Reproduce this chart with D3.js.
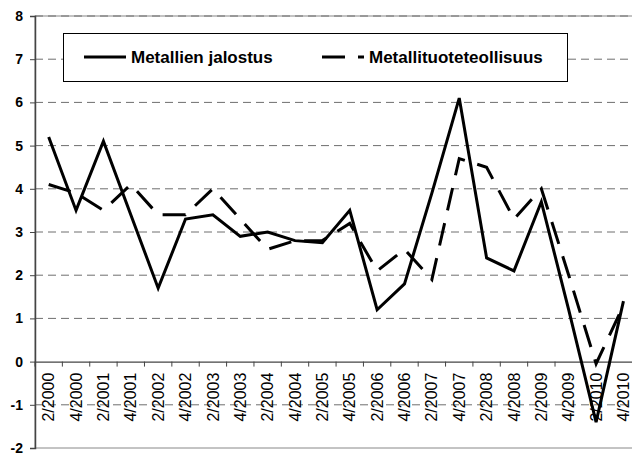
<!DOCTYPE html>
<html>
<head>
<meta charset="utf-8">
<script src="https://cdn.jsdelivr.net/npm/d3@7"></script>
<style>
  body { margin: 0; background: #fff; }
  svg { display: block; font-family: "Liberation Sans", Arial, sans-serif; }
</style>
</head>
<body>
<svg width="632" height="455"></svg>
<script>
const width = 632;
const height = 455;

// quarters on the x axis
const quarters = ["2/2000", "4/2000", "2/2001", "4/2001", "2/2002", "4/2002", "2/2003", "4/2003",
  "2/2004", "4/2004", "2/2005", "4/2005", "2/2006", "4/2006", "2/2007", "4/2007",
  "2/2008", "4/2008", "2/2009", "4/2009", "2/2010", "4/2010"];

const jalostus = [5.2, 3.5, 5.1, 3.4, 1.7, 3.3, 3.4, 2.9, 3.0, 2.8, 2.75, 3.5,
  1.2, 1.8, 3.9, 6.1, 2.4, 2.1, 3.7, 1.2, -1.4, 1.4];
const tuote = [4.1, 3.9, 3.5, 4.1, 3.4, 3.4, 4.0, 3.3, 2.6, 2.8, 2.8, 3.2,
  2.1, 2.6, 1.9, 4.7, 4.5, 3.3, 4.0, 2.0, -0.05, 1.3];

const seriesNames = ["Metallien jalostus", "Metallituoteteollisuus"];
const yTicks = [-2, -1, 0, 1, 2, 3, 4, 5, 6, 7, 8];

const svg = d3.select("svg");

const x = d3.scaleBand()
  .domain(quarters)
  .range([35, 35 + 22 * 27.37]);

const y = d3.scaleLinear()
  .domain([-2, 8])
  .range([448, 16]);

const plotRight = 35 + 22 * 27.37;

// plot area border (top/bottom)
svg.append("rect")
  .attr("x", 35).attr("y", y(8))
  .attr("width", plotRight - 35).attr("height", y(-2) - y(8))
  .attr("fill", "none")
  .attr("stroke", "#888")
  .attr("stroke-width", 1);

// gridlines
svg.append("g")
  .selectAll("line")
  .data(yTicks.filter(d => d !== 0 && d !== -2))
  .enter().append("line")
  .attr("x1", 35).attr("x2", plotRight)
  .attr("y1", d => y(d)).attr("y2", d => y(d))
  .attr("stroke", "#6e6e6e")
  .attr("stroke-width", 1)
  .attr("stroke-dasharray", "8,5");

// y axis
const yAxis = svg.append("g")
  .attr("transform", "translate(35,0)")
  .call(d3.axisLeft(y).tickValues(yTicks).tickSize(5).tickPadding(7).tickFormat(d => String(d)));
yAxis.select(".domain").attr("stroke", "#444").attr("stroke-width", 1.5);
yAxis.selectAll(".tick line").attr("stroke", "#444");
yAxis.selectAll("text")
  .attr("font-size", 14)
  .attr("font-weight", "bold")
  .attr("fill", "#000");

// x axis on zero line
const xAxis = svg.append("g")
  .attr("transform", `translate(0,${y(0)})`)
  .call(d3.axisBottom(x).tickSize(0).tickPadding(0));
xAxis.select(".domain").attr("stroke", "#444").attr("stroke-width", 1.2);
xAxis.selectAll("text")
  .attr("font-size", 16)
  .attr("fill", "#000")
  .attr("transform", "rotate(-90)")
  .attr("text-anchor", "end")
  .attr("x", -11)
  .attr("y", 0)
  .attr("dy", "0.35em");

// ticks between categories
svg.append("g")
  .selectAll("line")
  .data(quarters)
  .enter().append("line")
  .attr("x1", d => x(d)).attr("x2", d => x(d))
  .attr("y1", y(0)).attr("y2", y(0) + 5)
  .attr("stroke", "#444");

const line = d3.line()
  .x((d, i) => x(quarters[i]) + x.bandwidth() / 2)
  .y(d => y(d));

svg.append("path")
  .datum(tuote)
  .attr("d", line)
  .attr("fill", "none")
  .attr("stroke", "#000")
  .attr("stroke-width", 3)
  .attr("stroke-dasharray", "23,13");

svg.append("path")
  .datum(jalostus)
  .attr("d", line)
  .attr("fill", "none")
  .attr("stroke", "#000")
  .attr("stroke-width", 3);

// legend
const legend = svg.append("g");
legend.append("rect")
  .attr("x", 63.5).attr("y", 33.5)
  .attr("width", 504).attr("height", 48)
  .attr("fill", "#fff")
  .attr("stroke", "#000")
  .attr("stroke-width", 1);

const legendItems = [
  { name: seriesNames[0], x: 84, dash: null },
  { name: seriesNames[1], x: 322, dash: "23,13" }
];
legendItems.forEach(it => {
  legend.append("line")
    .attr("x1", it.x).attr("x2", it.x + 42)
    .attr("y1", 57).attr("y2", 57)
    .attr("stroke", "#000")
    .attr("stroke-width", 3)
    .attr("stroke-dasharray", it.dash);
  legend.append("text")
    .attr("x", it.x + 47).attr("y", 63)
    .attr("font-size", 17)
    .attr("font-weight", "bold")
    .text(it.name);
});
</script>
</body>
</html>
